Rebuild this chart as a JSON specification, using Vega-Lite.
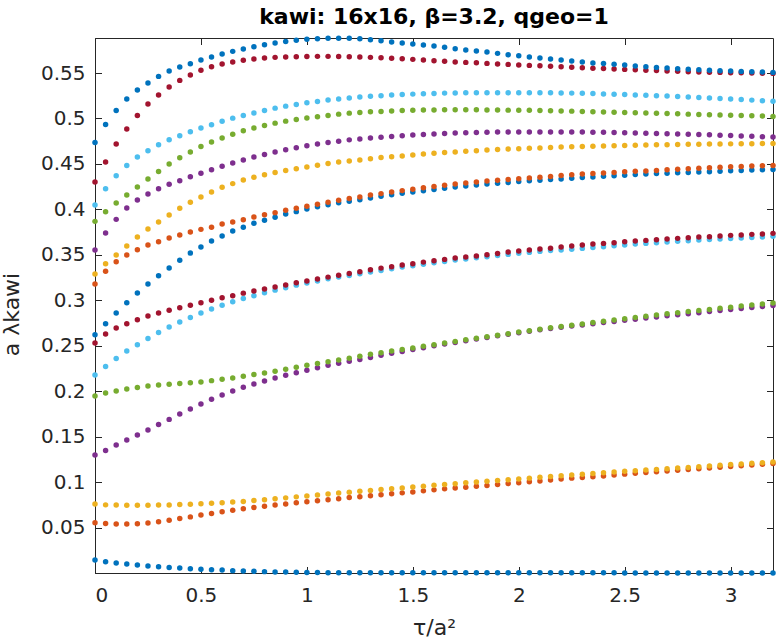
{
  "$schema": "https://vega.github.io/schema/vega-lite/v6.json",
  "autosize": {"type": "none"},
  "padding": {"left": 95, "top": 38, "right": 6, "bottom": 69},
  "width": 678,
  "height": 535,
  "background": "white",
  "title": {
    "text": "kawi: 16x16, β=3.2, qgeo=1",
    "font": "DejaVu Sans",
    "fontSize": 22,
    "fontWeight": "bold",
    "color": "black",
    "anchor": "middle",
    "frame": "group",
    "baseline": "alphabetic",
    "offset": -11
  },
  "config": {
    "view": {"stroke": "#262626", "strokeWidth": 1},
    "axis": {
      "grid": false,
      "labelFont": "DejaVu Sans",
      "labelFontSize": 20,
      "labelColor": "#262626",
      "titleFont": "DejaVu Sans",
      "titleFontSize": 22,
      "titleFontWeight": "normal",
      "titleColor": "#262626",
      "domainColor": "#262626",
      "tickColor": "#262626",
      "tickSize": -6.5,
      "tickWidth": 1,
      "domainWidth": 1
    }
  },
  "data": {
    "values": [
      {"s":1,"t":0,"v":0.0145},{"s":1,"t":0.05,"v":0.0127},{"s":1,"t":0.1,"v":0.0112},{"s":1,"t":0.15,"v":0.0101},{"s":1,"t":0.2,"v":0.0090},{"s":1,"t":0.25,"v":0.0080},{"s":1,"t":0.3,"v":0.0071},{"s":1,"t":0.35,"v":0.0064},{"s":1,"t":0.4,"v":0.0057},{"s":1,"t":0.45,"v":0.0050},{"s":1,"t":0.5,"v":0.0045},{"s":1,"t":0.55,"v":0.0039},{"s":1,"t":0.6,"v":0.0035},{"s":1,"t":0.65,"v":0.0029},{"s":1,"t":0.7,"v":0.0025},{"s":1,"t":0.75,"v":0.0021},{"s":1,"t":0.8,"v":0.0018},{"s":1,"t":0.85,"v":0.0015},{"s":1,"t":0.9,"v":0.0013},{"s":1,"t":0.95,"v":0.0011},{"s":1,"t":1,"v":0.0009},{"s":1,"t":1.05,"v":0.0008},{"s":1,"t":1.1,"v":0.0007},{"s":1,"t":1.15,"v":0.0007},{"s":1,"t":1.2,"v":0.0006},
      {"s":1,"t":1.25,"v":0.0006},{"s":1,"t":1.3,"v":0.0006},{"s":1,"t":1.35,"v":0.0006},{"s":1,"t":1.4,"v":0.0006},{"s":1,"t":1.45,"v":0.0006},{"s":1,"t":1.5,"v":0.0006},{"s":1,"t":1.55,"v":0.0006},{"s":1,"t":1.6,"v":0.0006},{"s":1,"t":1.65,"v":0.0006},{"s":1,"t":1.7,"v":0.0006},{"s":1,"t":1.75,"v":0.0005},{"s":1,"t":1.8,"v":0.0005},{"s":1,"t":1.85,"v":0.0005},{"s":1,"t":1.9,"v":0.0005},{"s":1,"t":1.95,"v":0.0005},{"s":1,"t":2,"v":0.0005},{"s":1,"t":2.05,"v":0.0005},{"s":1,"t":2.1,"v":0.0005},{"s":1,"t":2.15,"v":0.0005},
      {"s":1,"t":2.2,"v":0.0005},{"s":1,"t":2.25,"v":0.0005},{"s":1,"t":2.3,"v":0.0005},{"s":1,"t":2.35,"v":0.0005},{"s":1,"t":2.4,"v":0.0005},{"s":1,"t":2.45,"v":0.0005},{"s":1,"t":2.5,"v":0.0004},{"s":1,"t":2.55,"v":0.0004},{"s":1,"t":2.6,"v":0.0004},{"s":1,"t":2.65,"v":0.0004},{"s":1,"t":2.7,"v":0.0004},{"s":1,"t":2.75,"v":0.0004},{"s":1,"t":2.8,"v":0.0004},{"s":1,"t":2.85,"v":0.0004},{"s":1,"t":2.9,"v":0.0004},{"s":1,"t":2.95,"v":0.0004},{"s":1,"t":3,"v":0.0004},{"s":1,"t":3.05,"v":0.0004},{"s":1,"t":3.1,"v":0.0004},{"s":1,"t":3.15,"v":0.0004},{"s":1,"t":3.2,"v":0.0004},

      {"s":2,"t":0,"v":0.0555},{"s":2,"t":0.05,"v":0.0548},{"s":2,"t":0.1,"v":0.0542},{"s":2,"t":0.15,"v":0.0541},{"s":2,"t":0.2,"v":0.0544},{"s":2,"t":0.25,"v":0.0552},{"s":2,"t":0.3,"v":0.0566},{"s":2,"t":0.35,"v":0.0584},{"s":2,"t":0.4,"v":0.0601},{"s":2,"t":0.45,"v":0.0620},{"s":2,"t":0.5,"v":0.0640},{"s":2,"t":0.55,"v":0.0658},{"s":2,"t":0.6,"v":0.0676},{"s":2,"t":0.65,"v":0.0694},{"s":2,"t":0.7,"v":0.0709},{"s":2,"t":0.75,"v":0.0723},{"s":2,"t":0.8,"v":0.0736},{"s":2,"t":0.85,"v":0.0750},{"s":2,"t":0.9,"v":0.0762},{"s":2,"t":0.95,"v":0.0775},{"s":2,"t":1,"v":0.0786},{"s":2,"t":1.05,"v":0.0797},{"s":2,"t":1.1,"v":0.0808},{"s":2,"t":1.15,"v":0.0820},{"s":2,"t":1.2,"v":0.0832},
      {"s":2,"t":1.25,"v":0.0842},{"s":2,"t":1.3,"v":0.0852},{"s":2,"t":1.35,"v":0.0863},{"s":2,"t":1.4,"v":0.0874},{"s":2,"t":1.45,"v":0.0884},{"s":2,"t":1.5,"v":0.0894},{"s":2,"t":1.55,"v":0.0906},{"s":2,"t":1.6,"v":0.0917},{"s":2,"t":1.65,"v":0.0928},{"s":2,"t":1.7,"v":0.0937},{"s":2,"t":1.75,"v":0.0947},{"s":2,"t":1.8,"v":0.0956},{"s":2,"t":1.85,"v":0.0966},{"s":2,"t":1.9,"v":0.0977},{"s":2,"t":1.95,"v":0.0987},{"s":2,"t":2,"v":0.0996},{"s":2,"t":2.05,"v":0.1006},{"s":2,"t":2.1,"v":0.1015},{"s":2,"t":2.15,"v":0.1025},
      {"s":2,"t":2.2,"v":0.1036},{"s":2,"t":2.25,"v":0.1046},{"s":2,"t":2.3,"v":0.1054},{"s":2,"t":2.35,"v":0.1062},{"s":2,"t":2.4,"v":0.1070},{"s":2,"t":2.45,"v":0.1080},{"s":2,"t":2.5,"v":0.1090},{"s":2,"t":2.55,"v":0.1100},{"s":2,"t":2.6,"v":0.1108},{"s":2,"t":2.65,"v":0.1115},{"s":2,"t":2.7,"v":0.1124},{"s":2,"t":2.75,"v":0.1132},{"s":2,"t":2.8,"v":0.1141},{"s":2,"t":2.85,"v":0.1149},{"s":2,"t":2.9,"v":0.1157},{"s":2,"t":2.95,"v":0.1165},{"s":2,"t":3,"v":0.1174},{"s":2,"t":3.05,"v":0.1182},{"s":2,"t":3.1,"v":0.1190},{"s":2,"t":3.15,"v":0.1198},{"s":2,"t":3.2,"v":0.1207},

      {"s":3,"t":0,"v":0.0761},{"s":3,"t":0.05,"v":0.0752},{"s":3,"t":0.1,"v":0.0750},{"s":3,"t":0.15,"v":0.0749},{"s":3,"t":0.2,"v":0.0749},{"s":3,"t":0.25,"v":0.0749},{"s":3,"t":0.3,"v":0.0750},{"s":3,"t":0.35,"v":0.0751},{"s":3,"t":0.4,"v":0.0755},{"s":3,"t":0.45,"v":0.0759},{"s":3,"t":0.5,"v":0.0764},{"s":3,"t":0.55,"v":0.0770},{"s":3,"t":0.6,"v":0.0776},{"s":3,"t":0.65,"v":0.0783},{"s":3,"t":0.7,"v":0.0790},{"s":3,"t":0.75,"v":0.0800},{"s":3,"t":0.8,"v":0.0809},{"s":3,"t":0.85,"v":0.0819},{"s":3,"t":0.9,"v":0.0829},{"s":3,"t":0.95,"v":0.0840},{"s":3,"t":1,"v":0.0850},{"s":3,"t":1.05,"v":0.0860},{"s":3,"t":1.1,"v":0.0871},{"s":3,"t":1.15,"v":0.0882},{"s":3,"t":1.2,"v":0.0892},
      {"s":3,"t":1.25,"v":0.0902},{"s":3,"t":1.3,"v":0.0911},{"s":3,"t":1.35,"v":0.0920},{"s":3,"t":1.4,"v":0.0929},{"s":3,"t":1.45,"v":0.0938},{"s":3,"t":1.5,"v":0.0948},{"s":3,"t":1.55,"v":0.0958},{"s":3,"t":1.6,"v":0.0968},{"s":3,"t":1.65,"v":0.0977},{"s":3,"t":1.7,"v":0.0985},{"s":3,"t":1.75,"v":0.0994},{"s":3,"t":1.8,"v":0.1003},{"s":3,"t":1.85,"v":0.1012},{"s":3,"t":1.9,"v":0.1021},{"s":3,"t":1.95,"v":0.1028},{"s":3,"t":2,"v":0.1037},{"s":3,"t":2.05,"v":0.1046},{"s":3,"t":2.1,"v":0.1056},{"s":3,"t":2.15,"v":0.1065},
      {"s":3,"t":2.2,"v":0.1073},{"s":3,"t":2.25,"v":0.1080},{"s":3,"t":2.3,"v":0.1088},{"s":3,"t":2.35,"v":0.1097},{"s":3,"t":2.4,"v":0.1105},{"s":3,"t":2.45,"v":0.1113},{"s":3,"t":2.5,"v":0.1121},{"s":3,"t":2.55,"v":0.1128},{"s":3,"t":2.6,"v":0.1135},{"s":3,"t":2.65,"v":0.1142},{"s":3,"t":2.7,"v":0.1149},{"s":3,"t":2.75,"v":0.1157},{"s":3,"t":2.8,"v":0.1164},{"s":3,"t":2.85,"v":0.1172},{"s":3,"t":2.9,"v":0.1180},{"s":3,"t":2.95,"v":0.1187},{"s":3,"t":3,"v":0.1195},{"s":3,"t":3.05,"v":0.1202},{"s":3,"t":3.1,"v":0.1209},{"s":3,"t":3.15,"v":0.1216},{"s":3,"t":3.2,"v":0.1223},

      {"s":4,"t":0,"v":0.1300},{"s":4,"t":0.05,"v":0.1351},{"s":4,"t":0.1,"v":0.1410},{"s":4,"t":0.15,"v":0.1465},{"s":4,"t":0.2,"v":0.1520},{"s":4,"t":0.25,"v":0.1576},{"s":4,"t":0.3,"v":0.1636},{"s":4,"t":0.35,"v":0.1692},{"s":4,"t":0.4,"v":0.1750},{"s":4,"t":0.45,"v":0.1806},{"s":4,"t":0.5,"v":0.1862},{"s":4,"t":0.55,"v":0.1914},{"s":4,"t":0.6,"v":0.1960},{"s":4,"t":0.65,"v":0.2004},{"s":4,"t":0.7,"v":0.2044},{"s":4,"t":0.75,"v":0.2081},{"s":4,"t":0.8,"v":0.2115},{"s":4,"t":0.85,"v":0.2147},{"s":4,"t":0.9,"v":0.2177},{"s":4,"t":0.95,"v":0.2205},{"s":4,"t":1,"v":0.2233},{"s":4,"t":1.05,"v":0.2260},{"s":4,"t":1.1,"v":0.2287},{"s":4,"t":1.15,"v":0.2310},{"s":4,"t":1.2,"v":0.2330},
      {"s":4,"t":1.25,"v":0.2351},{"s":4,"t":1.3,"v":0.2373},{"s":4,"t":1.35,"v":0.2396},{"s":4,"t":1.4,"v":0.2419},{"s":4,"t":1.45,"v":0.2439},{"s":4,"t":1.5,"v":0.2459},{"s":4,"t":1.55,"v":0.2480},{"s":4,"t":1.6,"v":0.2501},{"s":4,"t":1.65,"v":0.2520},{"s":4,"t":1.7,"v":0.2538},{"s":4,"t":1.75,"v":0.2557},{"s":4,"t":1.8,"v":0.2575},{"s":4,"t":1.85,"v":0.2593},{"s":4,"t":1.9,"v":0.2611},{"s":4,"t":1.95,"v":0.2629},{"s":4,"t":2,"v":0.2645},{"s":4,"t":2.05,"v":0.2662},{"s":4,"t":2.1,"v":0.2677},{"s":4,"t":2.15,"v":0.2690},
      {"s":4,"t":2.2,"v":0.2704},{"s":4,"t":2.25,"v":0.2718},{"s":4,"t":2.3,"v":0.2730},{"s":4,"t":2.35,"v":0.2744},{"s":4,"t":2.4,"v":0.2756},{"s":4,"t":2.45,"v":0.2769},{"s":4,"t":2.5,"v":0.2781},{"s":4,"t":2.55,"v":0.2794},{"s":4,"t":2.6,"v":0.2806},{"s":4,"t":2.65,"v":0.2818},{"s":4,"t":2.7,"v":0.2831},{"s":4,"t":2.75,"v":0.2843},{"s":4,"t":2.8,"v":0.2854},{"s":4,"t":2.85,"v":0.2865},{"s":4,"t":2.9,"v":0.2878},{"s":4,"t":2.95,"v":0.2889},{"s":4,"t":3,"v":0.2900},{"s":4,"t":3.05,"v":0.2911},{"s":4,"t":3.1,"v":0.2922},{"s":4,"t":3.15,"v":0.2933},{"s":4,"t":3.2,"v":0.2944},

      {"s":5,"t":0,"v":0.1948},{"s":5,"t":0.05,"v":0.1982},{"s":5,"t":0.1,"v":0.2004},{"s":5,"t":0.15,"v":0.2025},{"s":5,"t":0.2,"v":0.2043},{"s":5,"t":0.25,"v":0.2058},{"s":5,"t":0.3,"v":0.2069},{"s":5,"t":0.35,"v":0.2078},{"s":5,"t":0.4,"v":0.2086},{"s":5,"t":0.45,"v":0.2094},{"s":5,"t":0.5,"v":0.2104},{"s":5,"t":0.55,"v":0.2118},{"s":5,"t":0.6,"v":0.2133},{"s":5,"t":0.65,"v":0.2148},{"s":5,"t":0.7,"v":0.2167},{"s":5,"t":0.75,"v":0.2186},{"s":5,"t":0.8,"v":0.2202},{"s":5,"t":0.85,"v":0.2222},{"s":5,"t":0.9,"v":0.2244},{"s":5,"t":0.95,"v":0.2266},{"s":5,"t":1,"v":0.2288},{"s":5,"t":1.05,"v":0.2307},{"s":5,"t":1.1,"v":0.2326},{"s":5,"t":1.15,"v":0.2345},{"s":5,"t":1.2,"v":0.2364},
      {"s":5,"t":1.25,"v":0.2387},{"s":5,"t":1.3,"v":0.2408},{"s":5,"t":1.35,"v":0.2425},{"s":5,"t":1.4,"v":0.2443},{"s":5,"t":1.45,"v":0.2461},{"s":5,"t":1.5,"v":0.2477},{"s":5,"t":1.55,"v":0.2495},{"s":5,"t":1.6,"v":0.2513},{"s":5,"t":1.65,"v":0.2531},{"s":5,"t":1.7,"v":0.2549},{"s":5,"t":1.75,"v":0.2567},{"s":5,"t":1.8,"v":0.2583},{"s":5,"t":1.85,"v":0.2601},{"s":5,"t":1.9,"v":0.2618},{"s":5,"t":1.95,"v":0.2634},{"s":5,"t":2,"v":0.2652},{"s":5,"t":2.05,"v":0.2667},{"s":5,"t":2.1,"v":0.2684},{"s":5,"t":2.15,"v":0.2700},
      {"s":5,"t":2.2,"v":0.2714},{"s":5,"t":2.25,"v":0.2728},{"s":5,"t":2.3,"v":0.2741},{"s":5,"t":2.35,"v":0.2757},{"s":5,"t":2.4,"v":0.2770},{"s":5,"t":2.45,"v":0.2784},{"s":5,"t":2.5,"v":0.2798},{"s":5,"t":2.55,"v":0.2812},{"s":5,"t":2.6,"v":0.2825},{"s":5,"t":2.65,"v":0.2839},{"s":5,"t":2.7,"v":0.2853},{"s":5,"t":2.75,"v":0.2865},{"s":5,"t":2.8,"v":0.2878},{"s":5,"t":2.85,"v":0.2890},{"s":5,"t":2.9,"v":0.2901},{"s":5,"t":2.95,"v":0.2913},{"s":5,"t":3,"v":0.2926},{"s":5,"t":3.05,"v":0.2938},{"s":5,"t":3.1,"v":0.2949},{"s":5,"t":3.15,"v":0.2960},{"s":5,"t":3.2,"v":0.2971},

      {"s":6,"t":0,"v":0.2179},{"s":6,"t":0.05,"v":0.2274},{"s":6,"t":0.1,"v":0.2362},{"s":6,"t":0.15,"v":0.2443},{"s":6,"t":0.2,"v":0.2513},{"s":6,"t":0.25,"v":0.2582},{"s":6,"t":0.3,"v":0.2648},{"s":6,"t":0.35,"v":0.2707},{"s":6,"t":0.4,"v":0.2762},{"s":6,"t":0.45,"v":0.2813},{"s":6,"t":0.5,"v":0.2861},{"s":6,"t":0.55,"v":0.2905},{"s":6,"t":0.6,"v":0.2947},{"s":6,"t":0.65,"v":0.2985},{"s":6,"t":0.7,"v":0.3021},{"s":6,"t":0.75,"v":0.3052},{"s":6,"t":0.8,"v":0.3084},{"s":6,"t":0.85,"v":0.3113},{"s":6,"t":0.9,"v":0.3140},{"s":6,"t":0.95,"v":0.3168},{"s":6,"t":1,"v":0.3192},{"s":6,"t":1.05,"v":0.3214},{"s":6,"t":1.1,"v":0.3237},{"s":6,"t":1.15,"v":0.3258},{"s":6,"t":1.2,"v":0.3275},
      {"s":6,"t":1.25,"v":0.3292},{"s":6,"t":1.3,"v":0.3311},{"s":6,"t":1.35,"v":0.3330},{"s":6,"t":1.4,"v":0.3348},{"s":6,"t":1.45,"v":0.3366},{"s":6,"t":1.5,"v":0.3381},{"s":6,"t":1.55,"v":0.3397},{"s":6,"t":1.6,"v":0.3413},{"s":6,"t":1.65,"v":0.3429},{"s":6,"t":1.7,"v":0.3443},{"s":6,"t":1.75,"v":0.3456},{"s":6,"t":1.8,"v":0.3469},{"s":6,"t":1.85,"v":0.3481},{"s":6,"t":1.9,"v":0.3494},{"s":6,"t":1.95,"v":0.3506},{"s":6,"t":2,"v":0.3517},{"s":6,"t":2.05,"v":0.3528},{"s":6,"t":2.1,"v":0.3539},{"s":6,"t":2.15,"v":0.3549},
      {"s":6,"t":2.2,"v":0.3555},{"s":6,"t":2.25,"v":0.3562},{"s":6,"t":2.3,"v":0.3572},{"s":6,"t":2.35,"v":0.3582},{"s":6,"t":2.4,"v":0.3591},{"s":6,"t":2.45,"v":0.3600},{"s":6,"t":2.5,"v":0.3609},{"s":6,"t":2.55,"v":0.3619},{"s":6,"t":2.6,"v":0.3627},{"s":6,"t":2.65,"v":0.3634},{"s":6,"t":2.7,"v":0.3642},{"s":6,"t":2.75,"v":0.3651},{"s":6,"t":2.8,"v":0.3657},{"s":6,"t":2.85,"v":0.3664},{"s":6,"t":2.9,"v":0.3669},{"s":6,"t":2.95,"v":0.3675},{"s":6,"t":3,"v":0.3680},{"s":6,"t":3.05,"v":0.3686},{"s":6,"t":3.1,"v":0.3692},{"s":6,"t":3.15,"v":0.3698},{"s":6,"t":3.2,"v":0.3704},

      {"s":7,"t":0,"v":0.2531},{"s":7,"t":0.05,"v":0.2630},{"s":7,"t":0.1,"v":0.2696},{"s":7,"t":0.15,"v":0.2744},{"s":7,"t":0.2,"v":0.2788},{"s":7,"t":0.25,"v":0.2828},{"s":7,"t":0.3,"v":0.2861},{"s":7,"t":0.35,"v":0.2893},{"s":7,"t":0.4,"v":0.2919},{"s":7,"t":0.45,"v":0.2946},{"s":7,"t":0.5,"v":0.2974},{"s":7,"t":0.55,"v":0.3002},{"s":7,"t":0.6,"v":0.3028},{"s":7,"t":0.65,"v":0.3052},{"s":7,"t":0.7,"v":0.3080},{"s":7,"t":0.75,"v":0.3103},{"s":7,"t":0.8,"v":0.3125},{"s":7,"t":0.85,"v":0.3147},{"s":7,"t":0.9,"v":0.3169},{"s":7,"t":0.95,"v":0.3193},{"s":7,"t":1,"v":0.3213},{"s":7,"t":1.05,"v":0.3235},{"s":7,"t":1.1,"v":0.3256},{"s":7,"t":1.15,"v":0.3277},{"s":7,"t":1.2,"v":0.3296},
      {"s":7,"t":1.25,"v":0.3315},{"s":7,"t":1.3,"v":0.3336},{"s":7,"t":1.35,"v":0.3355},{"s":7,"t":1.4,"v":0.3371},{"s":7,"t":1.45,"v":0.3389},{"s":7,"t":1.5,"v":0.3404},{"s":7,"t":1.55,"v":0.3421},{"s":7,"t":1.6,"v":0.3436},{"s":7,"t":1.65,"v":0.3451},{"s":7,"t":1.7,"v":0.3465},{"s":7,"t":1.75,"v":0.3477},{"s":7,"t":1.8,"v":0.3489},{"s":7,"t":1.85,"v":0.3502},{"s":7,"t":1.9,"v":0.3516},{"s":7,"t":1.95,"v":0.3531},{"s":7,"t":2,"v":0.3543},{"s":7,"t":2.05,"v":0.3554},{"s":7,"t":2.1,"v":0.3565},{"s":7,"t":2.15,"v":0.3574},
      {"s":7,"t":2.2,"v":0.3586},{"s":7,"t":2.25,"v":0.3598},{"s":7,"t":2.3,"v":0.3609},{"s":7,"t":2.35,"v":0.3619},{"s":7,"t":2.4,"v":0.3627},{"s":7,"t":2.45,"v":0.3635},{"s":7,"t":2.5,"v":0.3645},{"s":7,"t":2.55,"v":0.3653},{"s":7,"t":2.6,"v":0.3660},{"s":7,"t":2.65,"v":0.3667},{"s":7,"t":2.7,"v":0.3675},{"s":7,"t":2.75,"v":0.3682},{"s":7,"t":2.8,"v":0.3689},{"s":7,"t":2.85,"v":0.3696},{"s":7,"t":2.9,"v":0.3701},{"s":7,"t":2.95,"v":0.3708},{"s":7,"t":3,"v":0.3715},{"s":7,"t":3.05,"v":0.3720},{"s":7,"t":3.1,"v":0.3726},{"s":7,"t":3.15,"v":0.3731},{"s":7,"t":3.2,"v":0.3737},

      {"s":8,"t":0,"v":0.2623},{"s":8,"t":0.05,"v":0.2744},{"s":8,"t":0.1,"v":0.2861},{"s":8,"t":0.15,"v":0.2974},{"s":8,"t":0.2,"v":0.3081},{"s":8,"t":0.25,"v":0.3180},{"s":8,"t":0.3,"v":0.3271},{"s":8,"t":0.35,"v":0.3356},{"s":8,"t":0.4,"v":0.3442},{"s":8,"t":0.45,"v":0.3520},{"s":8,"t":0.5,"v":0.3587},{"s":8,"t":0.55,"v":0.3652},{"s":8,"t":0.6,"v":0.3708},{"s":8,"t":0.65,"v":0.3762},{"s":8,"t":0.7,"v":0.3805},{"s":8,"t":0.75,"v":0.3849},{"s":8,"t":0.8,"v":0.3882},{"s":8,"t":0.85,"v":0.3914},{"s":8,"t":0.9,"v":0.3949},{"s":8,"t":0.95,"v":0.3976},{"s":8,"t":1,"v":0.4005},{"s":8,"t":1.05,"v":0.4030},{"s":8,"t":1.1,"v":0.4052},{"s":8,"t":1.15,"v":0.4073},{"s":8,"t":1.2,"v":0.4090},
      {"s":8,"t":1.25,"v":0.4107},{"s":8,"t":1.3,"v":0.4126},{"s":8,"t":1.35,"v":0.4144},{"s":8,"t":1.4,"v":0.4161},{"s":8,"t":1.45,"v":0.4177},{"s":8,"t":1.5,"v":0.4192},{"s":8,"t":1.55,"v":0.4206},{"s":8,"t":1.6,"v":0.4220},{"s":8,"t":1.65,"v":0.4233},{"s":8,"t":1.7,"v":0.4246},{"s":8,"t":1.75,"v":0.4258},{"s":8,"t":1.8,"v":0.4269},{"s":8,"t":1.85,"v":0.4279},{"s":8,"t":1.9,"v":0.4288},{"s":8,"t":1.95,"v":0.4297},{"s":8,"t":2,"v":0.4306},{"s":8,"t":2.05,"v":0.4315},{"s":8,"t":2.1,"v":0.4322},{"s":8,"t":2.15,"v":0.4328},
      {"s":8,"t":2.2,"v":0.4335},{"s":8,"t":2.25,"v":0.4344},{"s":8,"t":2.3,"v":0.4351},{"s":8,"t":2.35,"v":0.4357},{"s":8,"t":2.4,"v":0.4364},{"s":8,"t":2.45,"v":0.4371},{"s":8,"t":2.5,"v":0.4377},{"s":8,"t":2.55,"v":0.4383},{"s":8,"t":2.6,"v":0.4389},{"s":8,"t":2.65,"v":0.4394},{"s":8,"t":2.7,"v":0.4398},{"s":8,"t":2.75,"v":0.4403},{"s":8,"t":2.8,"v":0.4407},{"s":8,"t":2.85,"v":0.4411},{"s":8,"t":2.9,"v":0.4415},{"s":8,"t":2.95,"v":0.4421},{"s":8,"t":3,"v":0.4425},{"s":8,"t":3.05,"v":0.4429},{"s":8,"t":3.1,"v":0.4433},{"s":8,"t":3.15,"v":0.4437},{"s":8,"t":3.2,"v":0.4440},

      {"s":9,"t":0,"v":0.3180},{"s":9,"t":0.05,"v":0.3321},{"s":9,"t":0.1,"v":0.3424},{"s":9,"t":0.15,"v":0.3499},{"s":9,"t":0.2,"v":0.3557},{"s":9,"t":0.25,"v":0.3608},{"s":9,"t":0.3,"v":0.3645},{"s":9,"t":0.35,"v":0.3686},{"s":9,"t":0.4,"v":0.3719},{"s":9,"t":0.45,"v":0.3752},{"s":9,"t":0.5,"v":0.3781},{"s":9,"t":0.55,"v":0.3805},{"s":9,"t":0.6,"v":0.3840},{"s":9,"t":0.65,"v":0.3863},{"s":9,"t":0.7,"v":0.3887},{"s":9,"t":0.75,"v":0.3916},{"s":9,"t":0.8,"v":0.3942},{"s":9,"t":0.85,"v":0.3965},{"s":9,"t":0.9,"v":0.3990},{"s":9,"t":0.95,"v":0.4012},{"s":9,"t":1,"v":0.4034},{"s":9,"t":1.05,"v":0.4056},{"s":9,"t":1.1,"v":0.4078},{"s":9,"t":1.15,"v":0.4100},{"s":9,"t":1.2,"v":0.4120},
      {"s":9,"t":1.25,"v":0.4138},{"s":9,"t":1.3,"v":0.4158},{"s":9,"t":1.35,"v":0.4174},{"s":9,"t":1.4,"v":0.4192},{"s":9,"t":1.45,"v":0.4207},{"s":9,"t":1.5,"v":0.4223},{"s":9,"t":1.55,"v":0.4238},{"s":9,"t":1.6,"v":0.4253},{"s":9,"t":1.65,"v":0.4265},{"s":9,"t":1.7,"v":0.4279},{"s":9,"t":1.75,"v":0.4290},{"s":9,"t":1.8,"v":0.4301},{"s":9,"t":1.85,"v":0.4312},{"s":9,"t":1.9,"v":0.4322},{"s":9,"t":1.95,"v":0.4330},{"s":9,"t":2,"v":0.4338},{"s":9,"t":2.05,"v":0.4346},{"s":9,"t":2.1,"v":0.4355},{"s":9,"t":2.15,"v":0.4363},
      {"s":9,"t":2.2,"v":0.4374},{"s":9,"t":2.25,"v":0.4382},{"s":9,"t":2.3,"v":0.4389},{"s":9,"t":2.35,"v":0.4396},{"s":9,"t":2.4,"v":0.4401},{"s":9,"t":2.45,"v":0.4407},{"s":9,"t":2.5,"v":0.4414},{"s":9,"t":2.55,"v":0.4419},{"s":9,"t":2.6,"v":0.4423},{"s":9,"t":2.65,"v":0.4429},{"s":9,"t":2.7,"v":0.4436},{"s":9,"t":2.75,"v":0.4443},{"s":9,"t":2.8,"v":0.4448},{"s":9,"t":2.85,"v":0.4454},{"s":9,"t":2.9,"v":0.4459},{"s":9,"t":2.95,"v":0.4465},{"s":9,"t":3,"v":0.4469},{"s":9,"t":3.05,"v":0.4473},{"s":9,"t":3.1,"v":0.4477},{"s":9,"t":3.15,"v":0.4481},{"s":9,"t":3.2,"v":0.4484},

      {"s":10,"t":0,"v":0.3290},{"s":10,"t":0.05,"v":0.3402},{"s":10,"t":0.1,"v":0.3500},{"s":10,"t":0.15,"v":0.3598},{"s":10,"t":0.2,"v":0.3697},{"s":10,"t":0.25,"v":0.3785},{"s":10,"t":0.3,"v":0.3863},{"s":10,"t":0.35,"v":0.3939},{"s":10,"t":0.4,"v":0.4012},{"s":10,"t":0.45,"v":0.4080},{"s":10,"t":0.5,"v":0.4137},{"s":10,"t":0.55,"v":0.4192},{"s":10,"t":0.6,"v":0.4245},{"s":10,"t":0.65,"v":0.4284},{"s":10,"t":0.7,"v":0.4323},{"s":10,"t":0.75,"v":0.4353},{"s":10,"t":0.8,"v":0.4382},{"s":10,"t":0.85,"v":0.4407},{"s":10,"t":0.9,"v":0.4429},{"s":10,"t":0.95,"v":0.4448},{"s":10,"t":1,"v":0.4467},{"s":10,"t":1.05,"v":0.4487},{"s":10,"t":1.1,"v":0.4504},{"s":10,"t":1.15,"v":0.4521},{"s":10,"t":1.2,"v":0.4533},
      {"s":10,"t":1.25,"v":0.4544},{"s":10,"t":1.3,"v":0.4557},{"s":10,"t":1.35,"v":0.4570},{"s":10,"t":1.4,"v":0.4580},{"s":10,"t":1.45,"v":0.4588},{"s":10,"t":1.5,"v":0.4598},{"s":10,"t":1.55,"v":0.4609},{"s":10,"t":1.6,"v":0.4619},{"s":10,"t":1.65,"v":0.4625},{"s":10,"t":1.7,"v":0.4632},{"s":10,"t":1.75,"v":0.4641},{"s":10,"t":1.8,"v":0.4646},{"s":10,"t":1.85,"v":0.4653},{"s":10,"t":1.9,"v":0.4658},{"s":10,"t":1.95,"v":0.4664},{"s":10,"t":2,"v":0.4668},{"s":10,"t":2.05,"v":0.4672},{"s":10,"t":2.1,"v":0.4676},{"s":10,"t":2.15,"v":0.4682},
      {"s":10,"t":2.2,"v":0.4686},{"s":10,"t":2.25,"v":0.4689},{"s":10,"t":2.3,"v":0.4693},{"s":10,"t":2.35,"v":0.4696},{"s":10,"t":2.4,"v":0.4698},{"s":10,"t":2.45,"v":0.4700},{"s":10,"t":2.5,"v":0.4704},{"s":10,"t":2.55,"v":0.4707},{"s":10,"t":2.6,"v":0.4709},{"s":10,"t":2.65,"v":0.4711},{"s":10,"t":2.7,"v":0.4712},{"s":10,"t":2.75,"v":0.4715},{"s":10,"t":2.8,"v":0.4717},{"s":10,"t":2.85,"v":0.4718},{"s":10,"t":2.9,"v":0.4719},{"s":10,"t":2.95,"v":0.4720},{"s":10,"t":3,"v":0.4721},{"s":10,"t":3.05,"v":0.4722},{"s":10,"t":3.1,"v":0.4723},{"s":10,"t":3.15,"v":0.4725},{"s":10,"t":3.2,"v":0.4726},

      {"s":11,"t":0,"v":0.3554},{"s":11,"t":0.05,"v":0.3741},{"s":11,"t":0.1,"v":0.3891},{"s":11,"t":0.15,"v":0.4016},{"s":11,"t":0.2,"v":0.4104},{"s":11,"t":0.25,"v":0.4170},{"s":11,"t":0.3,"v":0.4228},{"s":11,"t":0.35,"v":0.4276},{"s":11,"t":0.4,"v":0.4316},{"s":11,"t":0.45,"v":0.4359},{"s":11,"t":0.5,"v":0.4397},{"s":11,"t":0.55,"v":0.4437},{"s":11,"t":0.6,"v":0.4474},{"s":11,"t":0.65,"v":0.4510},{"s":11,"t":0.7,"v":0.4543},{"s":11,"t":0.75,"v":0.4576},{"s":11,"t":0.8,"v":0.4605},{"s":11,"t":0.85,"v":0.4631},{"s":11,"t":0.9,"v":0.4656},{"s":11,"t":0.95,"v":0.4679},{"s":11,"t":1,"v":0.4701},{"s":11,"t":1.05,"v":0.4720},{"s":11,"t":1.1,"v":0.4735},{"s":11,"t":1.15,"v":0.4751},{"s":11,"t":1.2,"v":0.4765},
      {"s":11,"t":1.25,"v":0.4775},{"s":11,"t":1.3,"v":0.4785},{"s":11,"t":1.35,"v":0.4795},{"s":11,"t":1.4,"v":0.4803},{"s":11,"t":1.45,"v":0.4811},{"s":11,"t":1.5,"v":0.4818},{"s":11,"t":1.55,"v":0.4825},{"s":11,"t":1.6,"v":0.4830},{"s":11,"t":1.65,"v":0.4836},{"s":11,"t":1.7,"v":0.4840},{"s":11,"t":1.75,"v":0.4844},{"s":11,"t":1.8,"v":0.4847},{"s":11,"t":1.85,"v":0.4850},{"s":11,"t":1.9,"v":0.4851},{"s":11,"t":1.95,"v":0.4852},{"s":11,"t":2,"v":0.4852},{"s":11,"t":2.05,"v":0.4852},{"s":11,"t":2.1,"v":0.4852},{"s":11,"t":2.15,"v":0.4852},
      {"s":11,"t":2.2,"v":0.4852},{"s":11,"t":2.25,"v":0.4851},{"s":11,"t":2.3,"v":0.4851},{"s":11,"t":2.35,"v":0.4850},{"s":11,"t":2.4,"v":0.4848},{"s":11,"t":2.45,"v":0.4846},{"s":11,"t":2.5,"v":0.4844},{"s":11,"t":2.55,"v":0.4841},{"s":11,"t":2.6,"v":0.4839},{"s":11,"t":2.65,"v":0.4836},{"s":11,"t":2.7,"v":0.4833},{"s":11,"t":2.75,"v":0.4830},{"s":11,"t":2.8,"v":0.4828},{"s":11,"t":2.85,"v":0.4825},{"s":11,"t":2.9,"v":0.4821},{"s":11,"t":2.95,"v":0.4817},{"s":11,"t":3,"v":0.4813},{"s":11,"t":3.05,"v":0.4808},{"s":11,"t":3.1,"v":0.4804},{"s":11,"t":3.15,"v":0.4800},{"s":11,"t":3.2,"v":0.4796},

      {"s":12,"t":0,"v":0.3869},{"s":12,"t":0.05,"v":0.3975},{"s":12,"t":0.1,"v":0.4071},{"s":12,"t":0.15,"v":0.4159},{"s":12,"t":0.2,"v":0.4247},{"s":12,"t":0.25,"v":0.4335},{"s":12,"t":0.3,"v":0.4418},{"s":12,"t":0.35,"v":0.4499},{"s":12,"t":0.4,"v":0.4569},{"s":12,"t":0.45,"v":0.4631},{"s":12,"t":0.5,"v":0.4691},{"s":12,"t":0.55,"v":0.4741},{"s":12,"t":0.6,"v":0.4785},{"s":12,"t":0.65,"v":0.4828},{"s":12,"t":0.7,"v":0.4865},{"s":12,"t":0.75,"v":0.4895},{"s":12,"t":0.8,"v":0.4923},{"s":12,"t":0.85,"v":0.4949},{"s":12,"t":0.9,"v":0.4971},{"s":12,"t":0.95,"v":0.4988},{"s":12,"t":1,"v":0.5005},{"s":12,"t":1.05,"v":0.5020},{"s":12,"t":1.1,"v":0.5034},{"s":12,"t":1.15,"v":0.5048},{"s":12,"t":1.2,"v":0.5059},
      {"s":12,"t":1.25,"v":0.5066},{"s":12,"t":1.3,"v":0.5073},{"s":12,"t":1.35,"v":0.5078},{"s":12,"t":1.4,"v":0.5082},{"s":12,"t":1.45,"v":0.5087},{"s":12,"t":1.5,"v":0.5091},{"s":12,"t":1.55,"v":0.5093},{"s":12,"t":1.6,"v":0.5094},{"s":12,"t":1.65,"v":0.5095},{"s":12,"t":1.7,"v":0.5095},{"s":12,"t":1.75,"v":0.5095},{"s":12,"t":1.8,"v":0.5095},{"s":12,"t":1.85,"v":0.5094},{"s":12,"t":1.9,"v":0.5093},{"s":12,"t":1.95,"v":0.5092},{"s":12,"t":2,"v":0.5091},{"s":12,"t":2.05,"v":0.5090},{"s":12,"t":2.1,"v":0.5088},{"s":12,"t":2.15,"v":0.5086},
      {"s":12,"t":2.2,"v":0.5083},{"s":12,"t":2.25,"v":0.5081},{"s":12,"t":2.3,"v":0.5078},{"s":12,"t":2.35,"v":0.5075},{"s":12,"t":2.4,"v":0.5072},{"s":12,"t":2.45,"v":0.5069},{"s":12,"t":2.5,"v":0.5066},{"s":12,"t":2.55,"v":0.5063},{"s":12,"t":2.6,"v":0.5060},{"s":12,"t":2.65,"v":0.5057},{"s":12,"t":2.7,"v":0.5054},{"s":12,"t":2.75,"v":0.5051},{"s":12,"t":2.8,"v":0.5048},{"s":12,"t":2.85,"v":0.5045},{"s":12,"t":2.9,"v":0.5042},{"s":12,"t":2.95,"v":0.5038},{"s":12,"t":3,"v":0.5036},{"s":12,"t":3.05,"v":0.5033},{"s":12,"t":3.1,"v":0.5030},{"s":12,"t":3.15,"v":0.5027},{"s":12,"t":3.2,"v":0.5023},

      {"s":13,"t":0,"v":0.4049},{"s":13,"t":0.05,"v":0.4228},{"s":13,"t":0.1,"v":0.4371},{"s":13,"t":0.15,"v":0.4484},{"s":13,"t":0.2,"v":0.4576},{"s":13,"t":0.25,"v":0.4646},{"s":13,"t":0.3,"v":0.4712},{"s":13,"t":0.35,"v":0.4767},{"s":13,"t":0.4,"v":0.4811},{"s":13,"t":0.45,"v":0.4855},{"s":13,"t":0.5,"v":0.4895},{"s":13,"t":0.55,"v":0.4932},{"s":13,"t":0.6,"v":0.4970},{"s":13,"t":0.65,"v":0.5004},{"s":13,"t":0.7,"v":0.5034},{"s":13,"t":0.75,"v":0.5060},{"s":13,"t":0.8,"v":0.5088},{"s":13,"t":0.85,"v":0.5114},{"s":13,"t":0.9,"v":0.5136},{"s":13,"t":0.95,"v":0.5155},{"s":13,"t":1,"v":0.5173},{"s":13,"t":1.05,"v":0.5188},{"s":13,"t":1.1,"v":0.5203},{"s":13,"t":1.15,"v":0.5214},{"s":13,"t":1.2,"v":0.5225},
      {"s":13,"t":1.25,"v":0.5236},{"s":13,"t":1.3,"v":0.5244},{"s":13,"t":1.35,"v":0.5251},{"s":13,"t":1.4,"v":0.5258},{"s":13,"t":1.45,"v":0.5263},{"s":13,"t":1.5,"v":0.5268},{"s":13,"t":1.55,"v":0.5272},{"s":13,"t":1.6,"v":0.5276},{"s":13,"t":1.65,"v":0.5279},{"s":13,"t":1.7,"v":0.5281},{"s":13,"t":1.75,"v":0.5282},{"s":13,"t":1.8,"v":0.5283},{"s":13,"t":1.85,"v":0.5284},{"s":13,"t":1.9,"v":0.5284},{"s":13,"t":1.95,"v":0.5284},{"s":13,"t":2,"v":0.5284},{"s":13,"t":2.05,"v":0.5284},{"s":13,"t":2.1,"v":0.5283},{"s":13,"t":2.15,"v":0.5282},
      {"s":13,"t":2.2,"v":0.5281},{"s":13,"t":2.25,"v":0.5279},{"s":13,"t":2.3,"v":0.5277},{"s":13,"t":2.35,"v":0.5274},{"s":13,"t":2.4,"v":0.5270},{"s":13,"t":2.45,"v":0.5267},{"s":13,"t":2.5,"v":0.5263},{"s":13,"t":2.55,"v":0.5259},{"s":13,"t":2.6,"v":0.5255},{"s":13,"t":2.65,"v":0.5251},{"s":13,"t":2.7,"v":0.5247},{"s":13,"t":2.75,"v":0.5241},{"s":13,"t":2.8,"v":0.5236},{"s":13,"t":2.85,"v":0.5230},{"s":13,"t":2.9,"v":0.5225},{"s":13,"t":2.95,"v":0.5219},{"s":13,"t":3,"v":0.5214},{"s":13,"t":3.05,"v":0.5208},{"s":13,"t":3.1,"v":0.5202},{"s":13,"t":3.15,"v":0.5196},{"s":13,"t":3.2,"v":0.5189},

      {"s":14,"t":0,"v":0.4302},{"s":14,"t":0.05,"v":0.4522},{"s":14,"t":0.1,"v":0.4720},{"s":14,"t":0.15,"v":0.4884},{"s":14,"t":0.2,"v":0.5034},{"s":14,"t":0.25,"v":0.5159},{"s":14,"t":0.3,"v":0.5258},{"s":14,"t":0.35,"v":0.5346},{"s":14,"t":0.4,"v":0.5419},{"s":14,"t":0.45,"v":0.5478},{"s":14,"t":0.5,"v":0.5531},{"s":14,"t":0.55,"v":0.5570},{"s":14,"t":0.6,"v":0.5599},{"s":14,"t":0.65,"v":0.5621},{"s":14,"t":0.7,"v":0.5641},{"s":14,"t":0.75,"v":0.5654},{"s":14,"t":0.8,"v":0.5665},{"s":14,"t":0.85,"v":0.5672},{"s":14,"t":0.9,"v":0.5676},{"s":14,"t":0.95,"v":0.5680},{"s":14,"t":1,"v":0.5682},{"s":14,"t":1.05,"v":0.5683},{"s":14,"t":1.1,"v":0.5683},{"s":14,"t":1.15,"v":0.5681},{"s":14,"t":1.2,"v":0.5679},
      {"s":14,"t":1.25,"v":0.5676},{"s":14,"t":1.3,"v":0.5672},{"s":14,"t":1.35,"v":0.5667},{"s":14,"t":1.4,"v":0.5662},{"s":14,"t":1.45,"v":0.5656},{"s":14,"t":1.5,"v":0.5650},{"s":14,"t":1.55,"v":0.5643},{"s":14,"t":1.6,"v":0.5636},{"s":14,"t":1.65,"v":0.5629},{"s":14,"t":1.7,"v":0.5622},{"s":14,"t":1.75,"v":0.5617},{"s":14,"t":1.8,"v":0.5612},{"s":14,"t":1.85,"v":0.5606},{"s":14,"t":1.9,"v":0.5600},{"s":14,"t":1.95,"v":0.5595},{"s":14,"t":2,"v":0.5589},{"s":14,"t":2.05,"v":0.5584},{"s":14,"t":2.1,"v":0.5580},{"s":14,"t":2.15,"v":0.5575},
      {"s":14,"t":2.2,"v":0.5568},{"s":14,"t":2.25,"v":0.5563},{"s":14,"t":2.3,"v":0.5557},{"s":14,"t":2.35,"v":0.5553},{"s":14,"t":2.4,"v":0.5549},{"s":14,"t":2.45,"v":0.5545},{"s":14,"t":2.5,"v":0.5540},{"s":14,"t":2.55,"v":0.5535},{"s":14,"t":2.6,"v":0.5530},{"s":14,"t":2.65,"v":0.5527},{"s":14,"t":2.7,"v":0.5523},{"s":14,"t":2.75,"v":0.5519},{"s":14,"t":2.8,"v":0.5515},{"s":14,"t":2.85,"v":0.5512},{"s":14,"t":2.9,"v":0.5509},{"s":14,"t":2.95,"v":0.5507},{"s":14,"t":3,"v":0.5504},{"s":14,"t":3.05,"v":0.5502},{"s":14,"t":3.1,"v":0.5500},{"s":14,"t":3.15,"v":0.5498},{"s":14,"t":3.2,"v":0.5496},

      {"s":15,"t":0,"v":0.4737},{"s":15,"t":0.05,"v":0.4935},{"s":15,"t":0.1,"v":0.5089},{"s":15,"t":0.15,"v":0.5214},{"s":15,"t":0.2,"v":0.5313},{"s":15,"t":0.25,"v":0.5390},{"s":15,"t":0.3,"v":0.5463},{"s":15,"t":0.35,"v":0.5522},{"s":15,"t":0.4,"v":0.5566},{"s":15,"t":0.45,"v":0.5603},{"s":15,"t":0.5,"v":0.5643},{"s":15,"t":0.55,"v":0.5676},{"s":15,"t":0.6,"v":0.5709},{"s":15,"t":0.65,"v":0.5738},{"s":15,"t":0.7,"v":0.5764},{"s":15,"t":0.75,"v":0.5789},{"s":15,"t":0.8,"v":0.5811},{"s":15,"t":0.85,"v":0.5830},{"s":15,"t":0.9,"v":0.5847},{"s":15,"t":0.95,"v":0.5861},{"s":15,"t":1,"v":0.5872},{"s":15,"t":1.05,"v":0.5878},{"s":15,"t":1.1,"v":0.5882},{"s":15,"t":1.15,"v":0.5883},{"s":15,"t":1.2,"v":0.5881},
      {"s":15,"t":1.25,"v":0.5876},{"s":15,"t":1.3,"v":0.5866},{"s":15,"t":1.35,"v":0.5854},{"s":15,"t":1.4,"v":0.5842},{"s":15,"t":1.45,"v":0.5831},{"s":15,"t":1.5,"v":0.5820},{"s":15,"t":1.55,"v":0.5809},{"s":15,"t":1.6,"v":0.5797},{"s":15,"t":1.65,"v":0.5783},{"s":15,"t":1.7,"v":0.5768},{"s":15,"t":1.75,"v":0.5754},{"s":15,"t":1.8,"v":0.5742},{"s":15,"t":1.85,"v":0.5730},{"s":15,"t":1.9,"v":0.5716},{"s":15,"t":1.95,"v":0.5702},{"s":15,"t":2,"v":0.5690},{"s":15,"t":2.05,"v":0.5677},{"s":15,"t":2.1,"v":0.5665},{"s":15,"t":2.15,"v":0.5654},
      {"s":15,"t":2.2,"v":0.5643},{"s":15,"t":2.25,"v":0.5632},{"s":15,"t":2.3,"v":0.5621},{"s":15,"t":2.35,"v":0.5611},{"s":15,"t":2.4,"v":0.5604},{"s":15,"t":2.45,"v":0.5597},{"s":15,"t":2.5,"v":0.5588},{"s":15,"t":2.55,"v":0.5578},{"s":15,"t":2.6,"v":0.5570},{"s":15,"t":2.65,"v":0.5562},{"s":15,"t":2.7,"v":0.5555},{"s":15,"t":2.75,"v":0.5548},{"s":15,"t":2.8,"v":0.5541},{"s":15,"t":2.85,"v":0.5536},{"s":15,"t":2.9,"v":0.5530},{"s":15,"t":2.95,"v":0.5526},{"s":15,"t":3,"v":0.5522},{"s":15,"t":3.05,"v":0.5518},{"s":15,"t":3.1,"v":0.5515},{"s":15,"t":3.15,"v":0.5511},{"s":15,"t":3.2,"v":0.5507}
    ]
  },
  "layer": [
    {
      "mark": {"type": "point", "shape": "circle", "filled": true, "size": 30, "opacity": 1, "strokeWidth": 0},
      "encoding": {
        "x": {
          "field": "t",
          "type": "quantitative",
          "scale": {"domain": [0, 3.2], "nice": false, "zero": false},
          "axis": {
            "orient": "bottom",
            "values": [0, 0.5, 1, 1.5, 2, 2.5, 3],
            "format": "~g",
            "labelPadding": 18.5,
            "title": "τ/a²",
            "titleBaseline": "alphabetic",
            "titleY": 61.5
          }
        },
        "y": {
          "field": "v",
          "type": "quantitative",
          "scale": {"domain": [0.0003, 0.5885], "nice": false, "zero": false},
          "axis": {
            "orient": "left",
            "values": [0.05, 0.1, 0.15, 0.2, 0.25, 0.3, 0.35, 0.4, 0.45, 0.5, 0.55],
            "format": ".2~f",
            "labelPadding": 16.5,
            "title": "a λkawi",
            "titleAngle": -90,
            "titleBaseline": "alphabetic",
            "titleAlign": "center",
            "titleX": -77,
            "titleY": 276
          }
        },
        "color": {
          "field": "s",
          "type": "nominal",
          "scale": {
            "domain": [1, 2, 3, 4, 5, 6, 7, 8, 9, 10, 11, 12, 13, 14, 15],
            "range": ["#0072BD", "#D95319", "#EDB120", "#7E2F8E", "#77AC30", "#4DBEEE", "#A2142F", "#0072BD", "#D95319", "#EDB120", "#7E2F8E", "#77AC30", "#4DBEEE", "#A2142F", "#0072BD"]
          },
          "legend": null
        }
      }
    },
    {
      "transform": [{"filter": "datum.s == 1"}],
      "mark": {"type": "point", "opacity": 0},
      "encoding": {
        "x": {
          "field": "t",
          "type": "quantitative",
          "axis": {"orient": "top", "values": [0, 0.5, 1, 1.5, 2, 2.5, 3], "labels": false, "domain": false, "title": null}
        },
        "y": {
          "field": "v",
          "type": "quantitative",
          "axis": {"orient": "right", "values": [0.05, 0.1, 0.15, 0.2, 0.25, 0.3, 0.35, 0.4, 0.45, 0.5, 0.55], "labels": false, "domain": false, "title": null}
        }
      }
    }
  ],
  "resolve": {"axis": {"x": "independent", "y": "independent"}}
}
